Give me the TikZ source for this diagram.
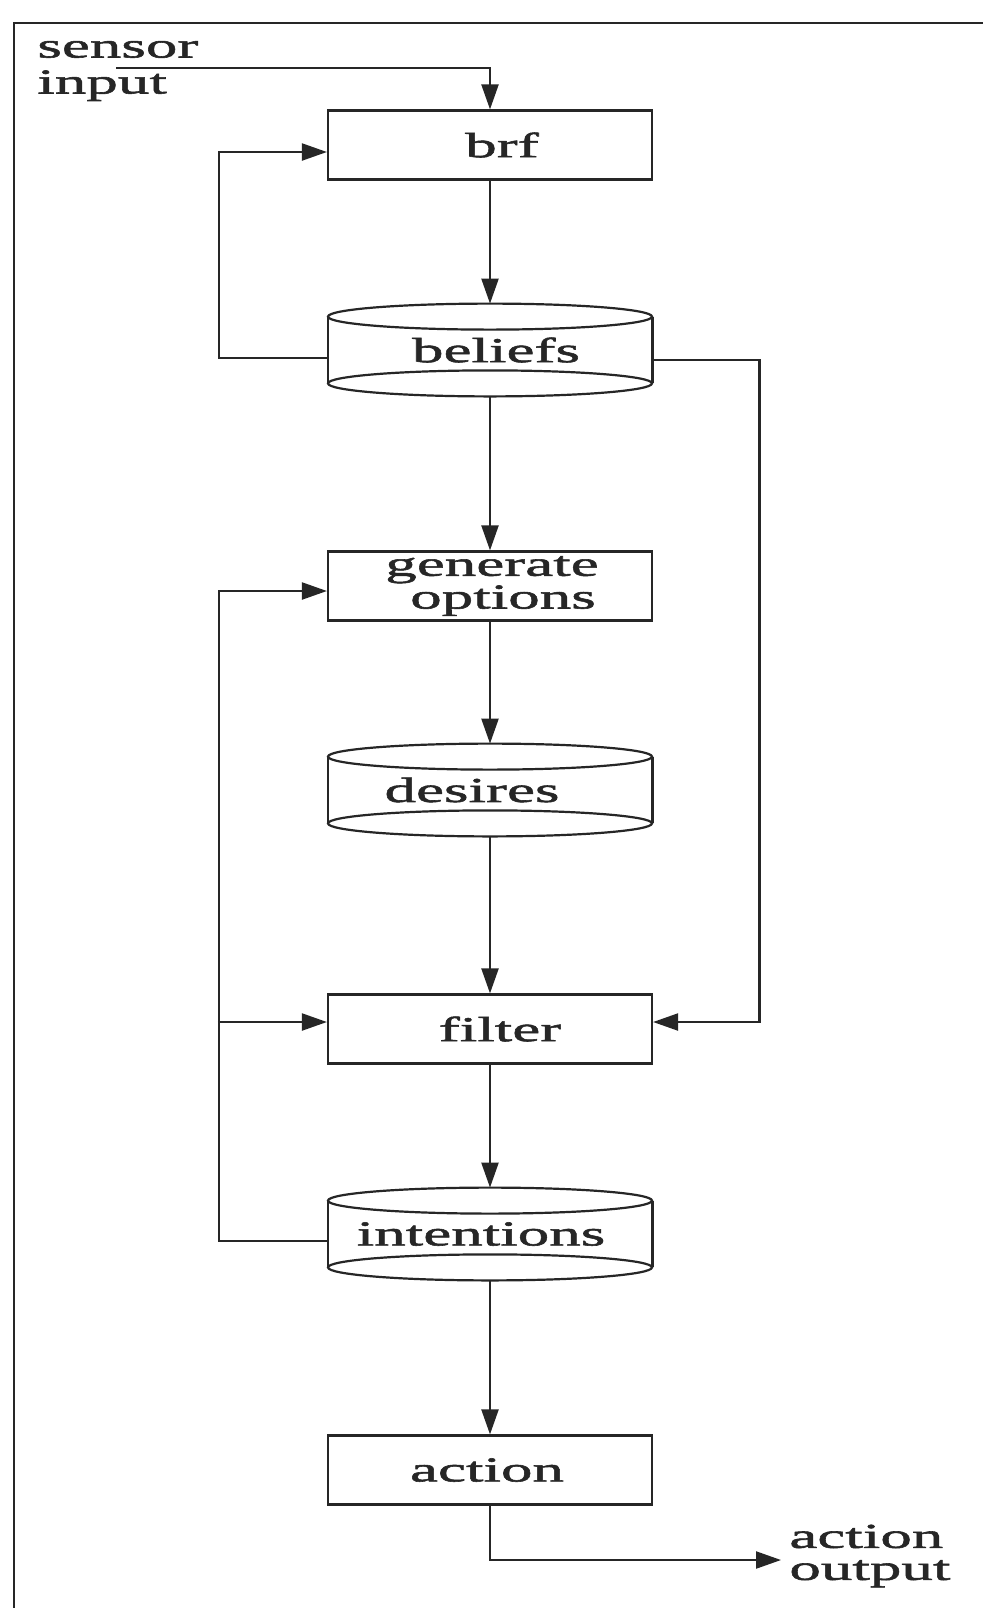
\documentclass[tikz,border=0pt]{standalone}
\usepackage{fontspec}
\setmainfont{Liberation Serif}[FakeStretch=1.8,FakeBold=1.6]
\usetikzlibrary{arrows.meta}
\definecolor{ink}{RGB}{38,38,38}
% shift a text sideways inside its node without changing the node's width
\newcommand\nudge[2]{\kern#1\relax#2\kern-#1\relax}
\begin{document}
\begin{tikzpicture}[x=0.5pt,y=-0.5pt,
  every node/.style={inner sep=0pt, text=ink, font=\fontsize{17.5}{18}\selectfont},
  proc/.style={draw=ink, line width=1.1pt, minimum width=162pt, minimum height=34.5pt},
  store/.style={minimum width=162pt, minimum height=46pt},
  wire/.style={draw=ink, line width=1.1pt},
  link/.style={wire, -{Triangle[length=12.5pt,width=8.5pt]}}]

\fill[white] (0,0) rectangle (983,1608);
\useasboundingbox (0,0) rectangle (983,1608);

% outer frame
\draw[wire, line width=1.3pt] (14,1610) -- (14,23) -- (985,23);

% processes and stores
\node[proc] (brf) at (490,145) {\nudge{6pt}{brf}};
\node[store] (beliefs) at (490,350) {\nudge{3pt}{beliefs}};
\node[proc, align=center, font={\fontsize{17.5}{13}\selectfont}]
  (gen) at (490,586) {\nudge{1pt}{generate}\\\nudge{6.5pt}{options}};
\node[store] (desires) at (490,790) {\nudge{-9pt}{desires}};
\node[proc] (filter) at (490,1029) {\nudge{5pt}{filter}};
\node[store] (intentions) at (490,1234) {\nudge{-4.5pt}{intentions}};
\node[proc] (action) at (490,1470) {\nudge{-1.5pt}{action}};

% cylinders for the stores
\foreach \n in {beliefs,desires,intentions}{
  \draw[wire] ([yshift=-6.5pt]\n.north) ellipse [x radius=81pt, y radius=6.5pt];
  \draw[wire] ([yshift=6.5pt]\n.south) ellipse [x radius=81pt, y radius=6.5pt];
  \draw[wire] ([yshift=-6.5pt]\n.north west) -- ([yshift=6.5pt]\n.south west);
  \draw[wire] ([yshift=-6.5pt]\n.north east) -- ([yshift=6.5pt]\n.south east);
}

% input and output labels
\node[align=left, anchor=west] (sensor) at (37,71) {sensor\\input};
\node[align=left, anchor=west, font={\fontsize{17.5}{16}\selectfont}]
  (out) at (789,1556) {action\\output};
\coordinate (sin) at (116,68);

% main flow
\draw[link] (sin) -| (brf.north);
\draw[link] (brf.south) -- (beliefs.north);
\draw[link] (beliefs.south) -- (gen.north);
\draw[link] (gen.south) -- (desires.north);
\draw[link] (desires.south) -- (filter.north);
\draw[link] (filter.south) -- (intentions.north);
\draw[link] (intentions.south) -- (action.north);
\draw[link] (action.south) |- ([xshift=-4pt,yshift=-2pt]out.west);

% feedback paths
\draw[link] ([yshift=-4pt]beliefs.west) -- ++(-109,0) |- ([yshift=-3.5pt]brf.west);
\draw[link] ([yshift=-5pt]beliefs.east) -- ++(107,0) |- ([yshift=3.5pt]filter.east);
\draw[link] ([yshift=-3.5pt]intentions.west) -- ++(-109,0) |- ([yshift=-2.5pt]gen.west);
\draw[link] ([xshift=-54.5pt,yshift=3.5pt]filter.west) -- ([yshift=3.5pt]filter.west);
\end{tikzpicture}
\end{document}
